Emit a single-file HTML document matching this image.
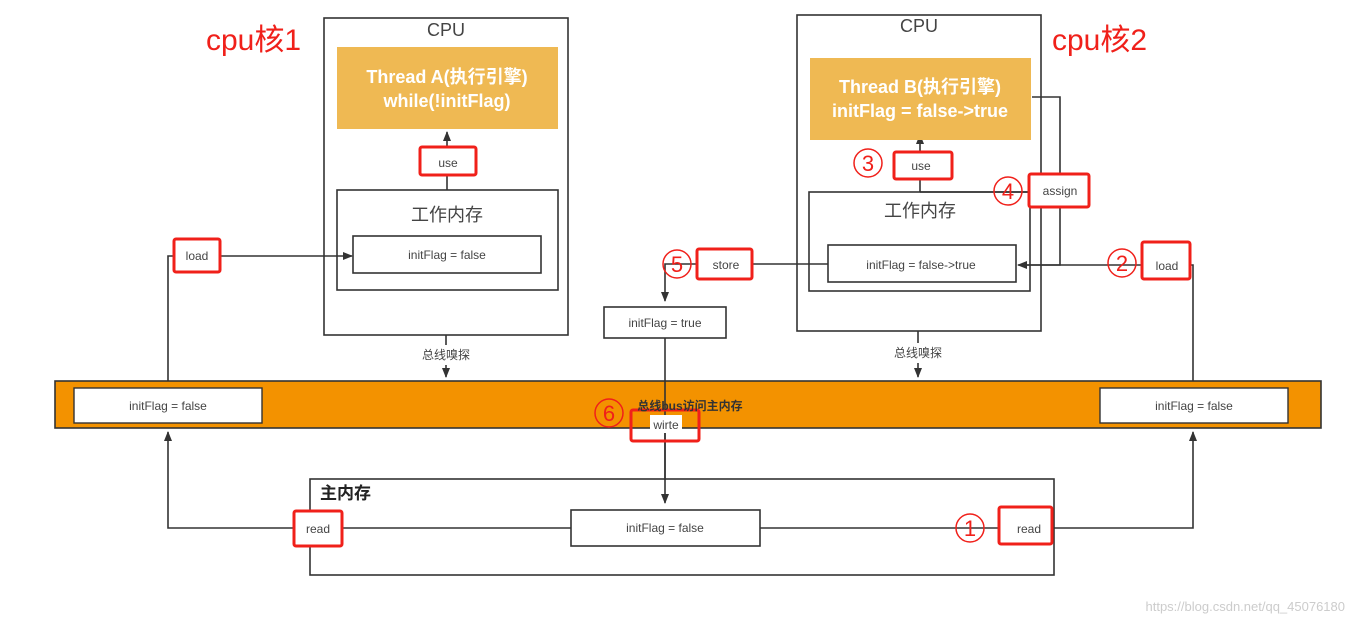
<!DOCTYPE html>
<html><head><meta charset="utf-8"><style>
body{margin:0;background:#fff;}
svg{display:block;font-family:"Liberation Sans","Noto Sans CJK SC",sans-serif;}
</style></head><body>
<svg width="1354" height="623" viewBox="0 0 1354 623" xmlns="http://www.w3.org/2000/svg">
<defs><marker id="a" markerWidth="10" markerHeight="10" refX="9" refY="5" orient="auto" markerUnits="userSpaceOnUse"><path d="M0,1 L10,5 L0,9 Z" fill="#333"/></marker></defs>
<g stroke="#333" stroke-width="1.6" fill="none">
<rect x="324" y="18" width="244" height="317" fill="#fff"/>
<rect x="337" y="190" width="221" height="100"/>
<rect x="353" y="236" width="188" height="37"/>
<line x1="447" y1="190" x2="447" y2="132" marker-end="url(#a)"/>
<line x1="446" y1="335" x2="446" y2="345"/>
<line x1="446" y1="365" x2="446" y2="377" marker-end="url(#a)"/>
<rect x="797" y="15" width="244" height="316" fill="#fff"/>
<rect x="809" y="192" width="221" height="99"/>
<rect x="828" y="245" width="188" height="37"/>
<line x1="920" y1="192" x2="920" y2="135" marker-end="url(#a)"/>
<line x1="920" y1="192" x2="1030" y2="192"/>
<line x1="918" y1="331" x2="918" y2="343"/>
<line x1="918" y1="363" x2="918" y2="377" marker-end="url(#a)"/>
<polyline points="1032,97 1060,97 1060,265 1020,265"/>
<polyline points="1193,385 1193,265 1018,265" marker-end="url(#a)"/>
<polyline points="828,264 665,264 665,301" marker-end="url(#a)"/>
<rect x="604" y="307" width="122" height="31" fill="#fff"/>
<line x1="665" y1="338" x2="665" y2="503" marker-end="url(#a)"/>
<polyline points="168,385 168,256 352,256" marker-end="url(#a)"/>
</g>
<rect x="55" y="381" width="1266" height="47" fill="#f39200" stroke="#333" stroke-width="1.6"/>
<rect x="74" y="388" width="188" height="35" fill="#fff" stroke="#333" stroke-width="1.4"/>
<rect x="1100" y="388" width="188" height="35" fill="#fff" stroke="#333" stroke-width="1.4"/>
<line x1="665" y1="381" x2="665" y2="428" stroke="#333" stroke-width="1.6"/>
<g stroke="#333" stroke-width="1.6" fill="none">
<rect x="310" y="479" width="744" height="96"/>
<rect x="571" y="510" width="189" height="36" fill="#fff"/>
<polyline points="571,528 168,528 168,432" marker-end="url(#a)"/>
<polyline points="760,528 1193,528 1193,432" marker-end="url(#a)"/>
<line x1="665" y1="428" x2="665" y2="480"/>
</g>
<rect x="337" y="47" width="221" height="82" fill="#efb953"/>
<rect x="810" y="58" width="221" height="82" fill="#efb953"/>
<g fill="#fff" font-size="18" font-weight="bold" text-anchor="middle">
<text x="447" y="83">Thread A(执行引擎)</text><text x="447" y="107">while(!initFlag)</text>
<text x="920" y="93">Thread B(执行引擎)</text><text x="920" y="117">initFlag = false-&gt;true</text>
</g>
<g fill="#fff">
<rect x="174" y="239" width="46" height="33"/><rect x="422" y="148" width="53" height="27"/>
<rect x="895" y="152" width="56" height="27"/><rect x="1030" y="174" width="59" height="33"/>
<rect x="698" y="249" width="54" height="30"/><rect x="1142" y="244" width="48" height="36"/>
<rect x="295" y="511" width="47" height="34"/><rect x="1000" y="508" width="52" height="36"/>
<rect x="650" y="415" width="32" height="18"/>
</g>
<g fill="none" stroke="#f0201a" stroke-width="3">
<rect x="174" y="239" width="46" height="33" rx="2"/><rect x="420" y="147" width="56" height="28" rx="2"/>
<rect x="894" y="152" width="58" height="27" rx="2"/><rect x="1029" y="174" width="60" height="33" rx="2"/>
<rect x="697" y="249" width="55" height="30" rx="2"/><rect x="1142" y="242" width="48" height="37" rx="2"/>
<rect x="294" y="511" width="48" height="35" rx="2"/><rect x="999" y="507" width="53" height="37" rx="2"/>
<rect x="631" y="410" width="68" height="31" rx="2"/>
</g>
<g fill="#444" font-size="12" text-anchor="middle">
<text x="197" y="260">load</text><text x="448" y="167">use</text><text x="921" y="170">use</text>
<text x="1060" y="195">assign</text><text x="726" y="269">store</text><text x="1167" y="270">load</text>
<text x="318" y="533">read</text><text x="1029" y="533">read</text><text x="666" y="429">wirte</text>
<text x="447" y="259">initFlag = false</text><text x="921" y="269">initFlag = false-&gt;true</text>
<text x="665" y="327">initFlag = true</text><text x="168" y="410">initFlag = false</text>
<text x="1194" y="410">initFlag = false</text><text x="665" y="532">initFlag = false</text>
<text x="446" y="359">总线嗅探</text><text x="918" y="357">总线嗅探</text>
</g>
<text x="690" y="410" font-size="12" font-weight="bold" fill="#333" text-anchor="middle">总线bus访问主内存</text>
<text x="320" y="499" font-size="17" font-weight="bold" fill="#222">主内存</text>
<g fill="#444" text-anchor="middle" font-size="18">
<text x="446" y="36">CPU</text><text x="919" y="32">CPU</text>
<text x="447" y="221">工作内存</text><text x="920" y="217">工作内存</text>
</g>
<g fill="#f0201a" font-size="30">
<text x="206" y="50">cpu核1</text><text x="1052" y="50">cpu核2</text>
</g>
<g fill="none" stroke="#f0201a" stroke-width="1.5">
<circle cx="868" cy="163" r="14"/><circle cx="1008" cy="191" r="14"/><circle cx="677" cy="264" r="14"/>
<circle cx="1122" cy="263" r="14"/><circle cx="609" cy="413" r="14"/><circle cx="970" cy="528" r="14"/>
</g>
<g fill="#f0201a" font-size="22" text-anchor="middle">
<text x="868" y="171">3</text><text x="1008" y="199">4</text><text x="677" y="272">5</text>
<text x="1122" y="271">2</text><text x="609" y="421">6</text><text x="970" y="536">1</text>
</g>
<text x="1345" y="611" font-size="13" fill="#ccc" text-anchor="end">https://blog.csdn.net/qq_45076180</text>
</svg>
</body></html>
